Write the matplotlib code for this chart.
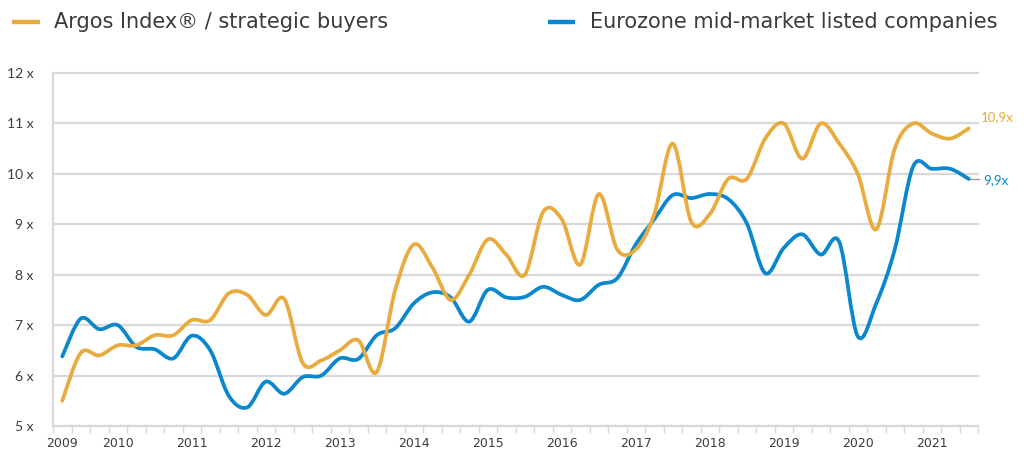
import matplotlib
matplotlib.use("Agg")
import matplotlib.pyplot as plt
from matplotlib.path import Path
from matplotlib.patches import PathPatch
from matplotlib.lines import Line2D
import numpy as np

# ---------------- data ----------------
year_labels = ["2009", "2010", "2011", "2012", "2013", "2014", "2015",
               "2016", "2017", "2018", "2019", "2020", "2021"]
year_label_positions = [0, 3, 7, 11, 15, 19, 23, 27, 31, 35, 39, 43, 47]

argos = [5.5, 6.45, 6.4, 6.6, 6.6, 6.8, 6.8, 7.1, 7.1, 7.63,
         7.6, 7.2, 7.52, 6.25, 6.3, 6.5, 6.7, 6.07, 7.7, 8.6,
         8.15, 7.5, 8.0, 8.7, 8.4, 8.0, 9.25, 9.1, 8.2, 9.6,
         8.5, 8.5, 9.2, 10.6, 9.05, 9.2, 9.9, 9.9, 10.7, 11.0,
         10.3, 11.0, 10.6, 10.0, 8.9, 10.5, 11.0, 10.8, 10.7, 10.9]

eurozone = [6.38, 7.13, 6.92, 7.0, 6.57, 6.52, 6.34, 6.79, 6.5, 5.6,
            5.37, 5.88, 5.64, 5.97, 6.0, 6.34, 6.33, 6.8, 6.94, 7.43,
            7.65, 7.55, 7.07, 7.7, 7.55, 7.56, 7.76, 7.6, 7.5, 7.8,
            7.93, 8.6, 9.1, 9.58, 9.52, 9.6, 9.5, 9.02, 8.03, 8.53,
            8.8, 8.4, 8.65, 6.78, 7.43, 8.5, 10.15, 10.1, 10.1, 9.9]

series_names = ["Argos Index\u00ae / strategic buyers",
                "Eurozone mid-market listed companies"]
end_labels = ["10,9x", "9,9x"]

GOLD = "#E9AB3E"
BLUE = "#0A87CD"
TEXT = "#3C3C3C"
GRID = "#D9D9D9"

plt.rcParams["font.family"] = ["Lato", "DejaVu Sans"]


def smooth_path(xs, ys):
    """Catmull-Rom style cubic Bezier path through the points (Excel smoothing)."""
    pts = np.column_stack([np.asarray(xs, float), np.asarray(ys, float)])
    n = len(pts)
    verts = [pts[0]]
    codes = [Path.MOVETO]
    for i in range(n - 1):
        p0 = pts[i - 1] if i > 0 else pts[i]
        p1 = pts[i]
        p2 = pts[i + 1]
        p3 = pts[i + 2] if i + 2 < n else pts[i + 1]
        verts += [p1 + (p2 - p0) / 6.0, p2 - (p3 - p1) / 6.0, p2]
        codes += [Path.CURVE4] * 3
    return Path(verts, codes)


fig = plt.figure(figsize=(10.24, 4.63), dpi=100)
W, H = 1024, 463
ax = fig.add_axes([53 / W, 1 - 426 / H, (978 - 53) / W, (426 - 73) / H])

n = len(argos)
x = np.arange(n)
ax.set_xlim(-0.5, n - 0.5)
ax.set_ylim(5, 12)

# grid & spines
ax.set_yticks(range(5, 13))
ax.set_yticklabels([f"{v} x" for v in range(5, 13)], fontsize=10, color=TEXT)
ax.yaxis.grid(True, color=GRID, lw=1.6)
for gl in ax.get_ygridlines():
    gl.set_clip_on(False)
ax.set_axisbelow(True)
for s in ["top", "right"]:
    ax.spines[s].set_visible(False)
for s in ["left", "bottom"]:
    ax.spines[s].set_color(GRID)
    ax.spines[s].set_linewidth(1.6)
ax.tick_params(axis="y", length=0, pad=14)

ax.set_xticks(year_label_positions)
ax.set_xticklabels(year_labels, fontsize=9, color=TEXT, family="DejaVu Sans")
ax.set_xticks(np.arange(-0.5, n, 1.0), minor=True)
ax.tick_params(axis="x", which="major", length=0, pad=8)
ax.tick_params(axis="x", which="minor", length=5, width=1, color=GRID)

# leader line for last blue value
ax.plot([x[-1], x[-1] + 0.55], [eurozone[-1], eurozone[-1]], color="#9a9a9a",
        lw=1, clip_on=False, zorder=1)

# smoothed lines
for ys, col, z in [(eurozone, BLUE, 3), (argos, GOLD, 4)]:
    patch = PathPatch(smooth_path(x, ys), facecolor="none", edgecolor=col,
                      lw=2.7, capstyle="round", joinstyle="round", zorder=z)
    ax.add_patch(patch)

# end labels
ax.annotate(end_labels[0], xy=(x[-1], argos[-1]), xytext=(8.5, 8),
            textcoords="offset points", ha="left", va="center",
            fontsize=9.5, color=GOLD, annotation_clip=False)
ax.annotate(end_labels[1], xy=(x[-1], eurozone[-1]), xytext=(10.5, -1),
            textcoords="offset points", ha="left", va="center",
            fontsize=9.5, color=BLUE, annotation_clip=False)

# legend (manual)
ly = 1 - 22 / H
for (x0, x1, xt), col, name in [((12, 40, 54), GOLD, series_names[0]),
                                ((548, 575, 590), BLUE, series_names[1])]:
    fig.add_artist(Line2D([x0 / W, x1 / W], [ly, ly], transform=fig.transFigure,
                          color=col, lw=3.2, solid_capstyle="butt"))
    fig.text(xt / W, ly, name, ha="left", va="center", fontsize=15,
             color=TEXT, family="DejaVu Sans")

fig.savefig("out.png", dpi=100)
